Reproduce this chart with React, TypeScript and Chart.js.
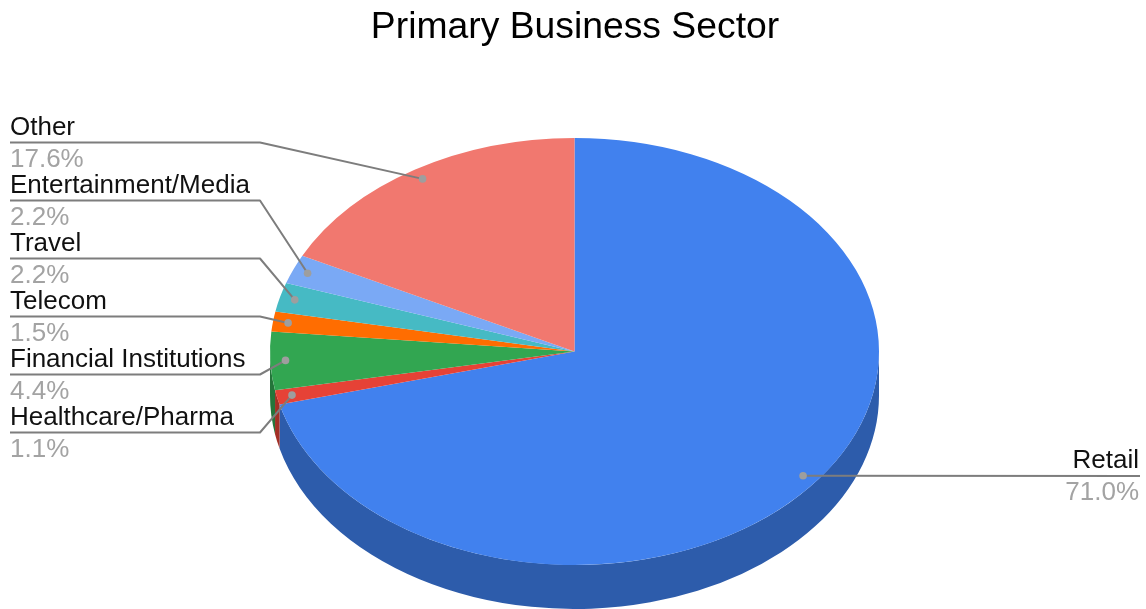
import React, { useEffect, useRef } from "react";
import { Chart, registerables } from "chart.js";

Chart.register(...registerables);

const categories = ["Retail", "Healthcare/Pharma", "Financial Institutions", "Telecom", "Travel", "Entertainment/Media", "Other"];
const shares = [71.0, 1.1, 4.4, 1.5, 2.2, 2.2, 17.6];
const topColors = ["#4181ee", "#e64236", "#32a651", "#ff6d01", "#46bac4", "#7aa9f5", "#f1786f"];
const sideColors = ["#2d5cab", "#a32f25", "#24753a", "#b24c01", "#31848a", "#5677ac", "#a8544e"];
const titleText = "Primary Business Sector";

const CX = 574.5;
const CY = 351.5;
const RX = 304.5;
const RY = 213.5;
const DEPTH = 44;
const FONT = '"Liberation Sans", Arial, sans-serif';
const LABEL_SIZE = 26;
// underline height of each left-hand label, indexed by slice order (Retail sits on the right)
const leftLineY = [0, 432.5, 374.5, 316.5, 258.5, 200.5, 142.5];

const pie3d = {
  id: "pie3d",
  beforeDatasetsDraw(chart: any) {
    const ctx = chart.ctx;
    const arcs = chart.getDatasetMeta(0).data;
    ctx.save();
    arcs.forEach((arc: any, i: number) => {
      const s = Math.max(arc.startAngle, 0);
      const e = Math.min(arc.endAngle, Math.PI);
      if (e <= s) return;
      ctx.beginPath();
      ctx.ellipse(CX, CY, RX, RY, 0, s, e, false);
      ctx.ellipse(CX, CY + DEPTH, RX, RY, 0, e, s, true);
      ctx.closePath();
      ctx.fillStyle = sideColors[i];
      ctx.fill();
    });
    ctx.restore();
    // the library's own arcs become the tilted top face
    const a = arcs[0];
    ctx.save();
    ctx.translate(CX, CY);
    ctx.scale(RX / a.outerRadius, RY / a.outerRadius);
    ctx.translate(-a.x, -a.y);
  },
  afterDatasetsDraw(chart: any) {
    const ctx = chart.ctx;
    ctx.restore();
    const arcs = chart.getDatasetMeta(0).data;
    ctx.save();
    arcs.forEach((arc: any, i: number) => {
      const mid = (arc.startAngle + arc.endAngle) / 2;
      const px = CX + Math.cos(mid) * RX * 0.95;
      const py = CY + Math.sin(mid) * RY * 0.95;
      const isRight = i === 0;
      const lineY = isRight ? 476 : leftLineY[i];
      const pct = shares[i].toFixed(1) + "%";

      ctx.strokeStyle = "#7d7d7d";
      ctx.lineWidth = 2;
      ctx.lineJoin = "round";
      ctx.beginPath();
      if (isRight) {
        ctx.moveTo(1140, lineY);
        ctx.lineTo(px, py);
      } else {
        ctx.moveTo(10, lineY);
        ctx.lineTo(260, lineY);
        ctx.lineTo(px, py);
      }
      ctx.stroke();

      ctx.fillStyle = "#9e9e9e";
      ctx.beginPath();
      ctx.arc(px, py, 3.8, 0, Math.PI * 2);
      ctx.fill();

      ctx.font = `${LABEL_SIZE}px ${FONT}`;
      ctx.textBaseline = "alphabetic";
      ctx.textAlign = isRight ? "right" : "left";
      const tx = isRight ? 1139 : 10;
      ctx.fillStyle = "#111111";
      ctx.fillText(categories[i], tx, lineY - 8);
      ctx.fillStyle = "#a3a3a3";
      ctx.fillText(pct, tx, lineY + 24);
    });
    ctx.restore();
  },
};

export default function App() {
  const ref = useRef<HTMLCanvasElement>(null);
  useEffect(() => {
    document.body.style.margin = "0";
    const chart = new Chart(ref.current!, {
      type: "pie",
      data: {
        labels: categories,
        datasets: [
          {
            data: shares,
            backgroundColor: topColors,
            borderWidth: 0,
            radius: 300,
            clip: false,
          } as any,
        ],
      },
      options: {
        responsive: false,
        animation: false,
        layout: { padding: { left: 4 } },
        plugins: {
          legend: { display: false },
          tooltip: { enabled: false },
          title: {
            display: true,
            text: titleText,
            color: "#000000",
            font: { family: FONT, size: 37.3, weight: "normal" },
            padding: { top: 5, bottom: 10 },
          },
        },
      } as any,
      plugins: [pie3d],
    });
    return () => chart.destroy();
  }, []);
  return <canvas ref={ref} width={1146} height={609} style={{ display: "block", width: 1146, height: 609 }} />;
}
